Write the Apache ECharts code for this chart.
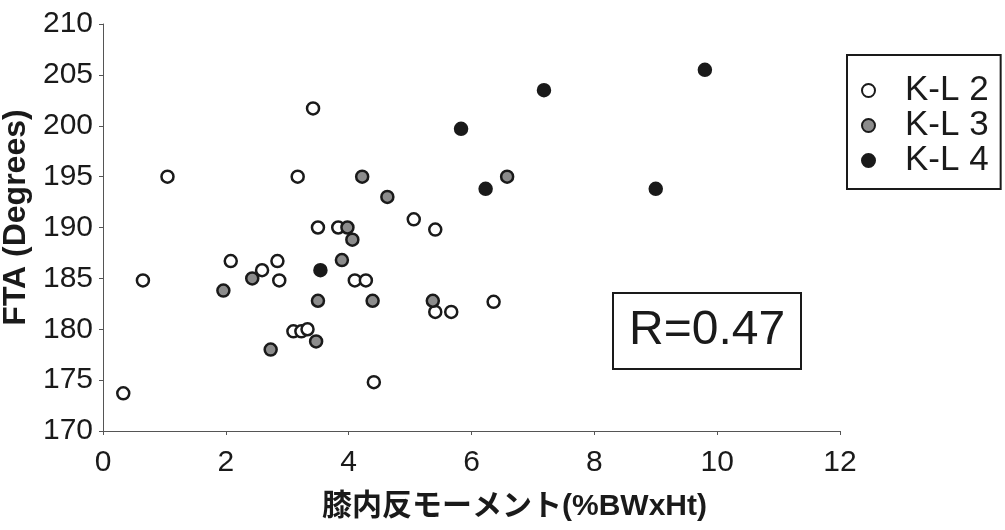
<!DOCTYPE html>
<html>
<head>
<meta charset="utf-8">
<script src="https://cdn.jsdelivr.net/npm/echarts@6/dist/echarts.min.js"></script>
<style>
  html, body { margin: 0; padding: 0; background: #fff; }
  #chart { width: 1005px; height: 530px; }
</style>
</head>
<body>
<div id="chart"></div>
<script>
// Knee varus moment vs. femorotibial angle, grouped by Kellgren-Lawrence grade
const seriesNames = ['K-L 2', 'K-L 3', 'K-L 4'];

const kl2 = [
  [0.33, 173.7], [0.65, 184.8], [1.05, 195.0], [2.08, 186.7], [2.59, 185.8],
  [2.84, 186.7], [2.87, 184.8], [3.10, 179.8], [3.23, 179.8], [3.33, 180.0],
  [3.17, 195.0], [3.42, 201.7], [3.50, 190.0], [3.83, 190.0], [4.10, 184.8],
  [4.28, 184.8], [4.41, 174.8], [5.06, 190.8], [5.41, 189.8], [5.41, 181.7],
  [5.67, 181.7], [6.36, 182.7]
];

const kl3 = [
  [1.96, 183.8], [2.43, 185.0], [2.73, 178.0], [3.47, 178.8], [3.50, 182.8],
  [3.89, 186.8], [3.98, 190.0], [4.06, 188.8], [4.22, 195.0], [4.39, 182.8],
  [4.63, 193.0], [5.37, 182.8], [6.58, 195.0]
];

const kl4 = [
  [3.54, 185.8], [5.83, 199.7], [6.23, 193.8], [7.18, 203.5], [9.00, 193.8],
  [9.80, 205.5]
];

const xTicks = { min: 0, max: 12, step: 2 };
const yTicks = { min: 170, max: 210, step: 5 };
const rText = 'R=0.47';

const font = '"Liberation Sans", Arial, "Noto Sans CJK JP", sans-serif';
const ink = '#1a1a1a';

const chart = echarts.init(document.getElementById('chart'), null, { renderer: 'canvas' });

function scatter(name, data, fill) {
  return {
    name: name,
    type: 'scatter',
    data: data,
    symbol: 'circle',
    symbolSize: 12,
    itemStyle: { color: fill, borderColor: ink, borderWidth: 2.5, opacity: 1 },
    emphasis: { disabled: true },
    z: 3
  };
}

chart.setOption({
  animation: false,
  backgroundColor: '#fff',
  textStyle: { fontFamily: font },
  grid: { left: 103, right: 165, top: 24, bottom: 99, containLabel: false, outerBoundsMode: 'none' },
  title: {
    text: rText,
    left: 613,
    top: 293,
    padding: [13, 16, 13, 16],
    borderColor: ink,
    borderWidth: 2,
    textStyle: { fontFamily: font, fontSize: 48, fontWeight: 'normal', color: ink, lineHeight: 50 }
  },
  legend: {
    data: seriesNames,
    orient: 'vertical',
    left: 847,
    top: 55,
    padding: [18, 12, 11, 14],
    itemGap: 0,
    itemWidth: 13,
    itemHeight: 13,
    borderColor: ink,
    borderWidth: 2,
    selectedMode: false,
    textStyle: { fontFamily: font, fontSize: 35, color: ink, lineHeight: 34, padding: [0, 0, 0, 25] }
  },
  xAxis: {
    type: 'value',
    min: xTicks.min,
    max: xTicks.max,
    interval: xTicks.step,
    name: '膝内反モーメント(%BWxHt)',
    nameLocation: 'middle',
    nameGap: 61,
    nameTextStyle: { fontFamily: font, fontSize: 30, fontWeight: 'bold', color: ink, padding: [0, 0, 0, 86] },
    axisLine: { show: true, onZero: false, lineStyle: { color: '#555', width: 1 } },
    axisTick: { show: true, inside: false, length: 4, lineStyle: { color: '#555' } },
    splitLine: { show: false },
    axisLabel: { fontFamily: font, fontSize: 30, color: ink, margin: 17 }
  },
  yAxis: {
    type: 'value',
    min: yTicks.min,
    max: yTicks.max,
    interval: yTicks.step,
    name: 'FTA (Degrees)',
    nameLocation: 'middle',
    nameRotate: 90,
    nameGap: 62,
    nameTextStyle: { fontFamily: font, fontSize: 32, fontWeight: 'bold', color: ink, padding: [0, 0, 0, 20] },
    axisLine: { show: true, onZero: false, lineStyle: { color: '#555', width: 1 } },
    axisTick: { show: true, inside: false, length: 4, lineStyle: { color: '#555' } },
    splitLine: { show: false },
    axisLabel: { fontFamily: font, fontSize: 30, color: ink, margin: 10 }
  },
  series: [
    scatter(seriesNames[0], kl2, '#ffffff'),
    scatter(seriesNames[1], kl3, '#8c8c8c'),
    scatter(seriesNames[2], kl4, ink)
  ]
});
</script>
</body>
</html>
